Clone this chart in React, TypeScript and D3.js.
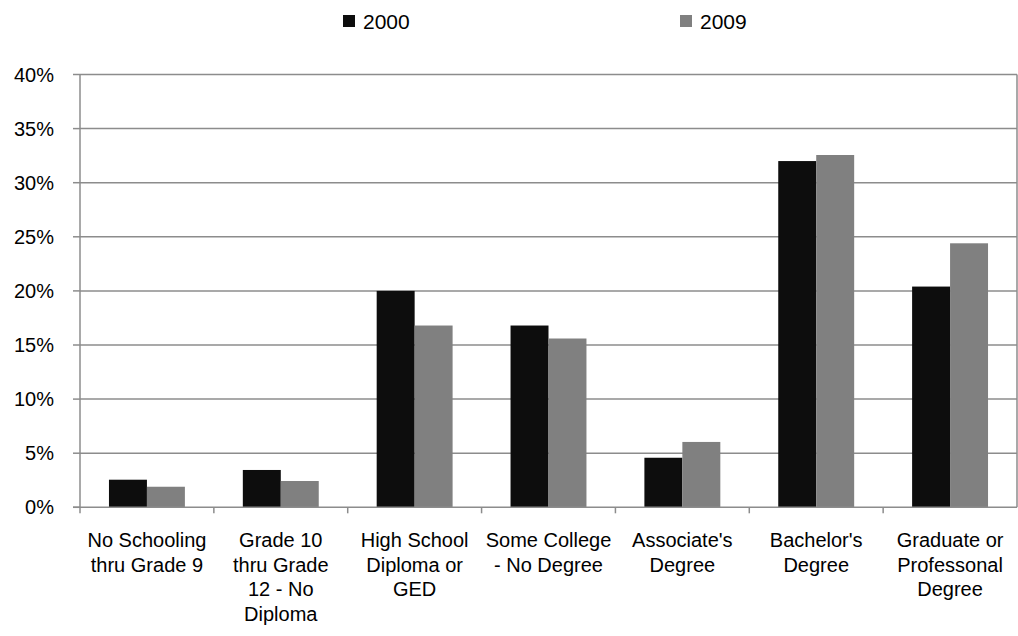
import React from "react";
import * as d3 from "d3";

const categories: string[][] = [
  ["No Schooling", "thru Grade 9"],
  ["Grade 10", "thru Grade", "12 - No", "Diploma"],
  ["High School", "Diploma or", "GED"],
  ["Some College", "- No Degree"],
  ["Associate's", "Degree"],
  ["Bachelor's", "Degree"],
  ["Graduate or", "Professonal", "Degree"],
];
const seriesNames = ["2000", "2009"];
const values2000 = [2.55, 3.45, 20.0, 16.8, 4.58, 32.0, 20.4];
const values2009 = [1.9, 2.43, 16.8, 15.6, 6.04, 32.56, 24.4];
const yTicks = [0, 5, 10, 15, 20, 25, 30, 35, 40];
const colors = ["#0d0d0d", "#808080"];

const W = 1018;
const H = 636;
const FONT = "'Liberation Sans', Arial, sans-serif";

export default function App() {
  const left = 80;
  const right = 1017;
  const top = 74.5;
  const bottom = 507.3;
  const idx = categories.map((_, i) => String(i));
  const x = d3.scaleBand().domain(idx).range([left, right]).paddingInner(0).paddingOuter(0);
  const inner = d3.scaleBand().domain(seriesNames).range([0, x.bandwidth()]).paddingInner(0).paddingOuter(0.763);
  const y = d3.scaleLinear().domain([0, 40]).range([bottom, top]);
  const series = [values2000, values2009];
  const gridColor = "#8c8c8c";

  return (
    <svg width={W} height={H} style={{ position: "absolute", left: 0, top: 0, background: "#fff" }} fontFamily={FONT}>
      <rect x={0} y={0} width={W} height={H} fill="#fff" />
      {/* legend */}
      {seriesNames.map((s, i) => {
        const lx = [343, 680][i];
        return (
          <g key={s}>
            <rect x={lx} y={15} width={12} height={12} fill={colors[i]} />
            <text x={lx + 20} y={21} dominantBaseline="central" fontSize={21} fill="#000">{s}</text>
          </g>
        );
      })}
      {/* grid */}
      {yTicks.map((t) => (
        <g key={t}>
          {t > 0 && <line x1={left} x2={right} y1={y(t)} y2={y(t)} stroke={gridColor} strokeWidth={1.5} />}
          <line x1={left - 7} x2={left} y1={y(t)} y2={y(t)} stroke={gridColor} strokeWidth={1.5} />
          <text x={54} y={y(t)} textAnchor="end" dominantBaseline="central" fontSize={20} fill="#000">{t}%</text>
        </g>
      ))}
      {/* bars */}
      {series.map((vals, si) =>
        vals.map((v, ci) => (
          <rect
            key={`${si}-${ci}`}
            x={(x(String(ci)) as number) + (inner(seriesNames[si]) as number)}
            y={y(v)}
            width={inner.bandwidth()}
            height={bottom - y(v)}
            fill={colors[si]}
          />
        ))
      )}
      {/* axes */}
      <line x1={left} x2={left} y1={top} y2={bottom} stroke={gridColor} strokeWidth={1.5} />
      <line x1={right} x2={right} y1={top} y2={bottom} stroke={gridColor} strokeWidth={1.5} />
      <line x1={left - 7} x2={right} y1={bottom} y2={bottom} stroke={gridColor} strokeWidth={1.5} />
      {idx.map((d, i) => (
        <line key={"t" + i} x1={x(d) as number} x2={x(d) as number} y1={bottom} y2={bottom + 6} stroke={gridColor} strokeWidth={1.5} />
      ))}
      {categories.map((lines, i) => {
        const cx = (x(String(i)) as number) + x.bandwidth() / 2;
        return (
          <text key={"c" + i} textAnchor="middle" fontSize={20} fill="#000">
            {lines.map((l, li) => (
              <tspan key={li} x={cx} y={540 + li * 24.6} dominantBaseline="central">{l}</tspan>
            ))}
          </text>
        );
      })}
    </svg>
  );
}
